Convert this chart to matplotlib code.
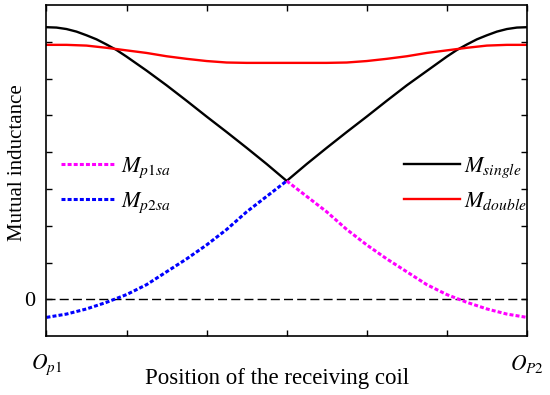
import matplotlib
matplotlib.use('Agg')
import matplotlib.pyplot as plt

# values (arbitrary units, receiving coil from Op1 to Op2)
x_single = [0, 0.125, 0.25, 0.375, 0.5, 0.625, 0.75, 0.875, 1.0, 1.25, 1.5, 1.75, 2.0,
            2.25, 2.5, 2.75, 3.0, 3.25, 3.5, 3.75, 4.0, 4.25, 4.5, 5.0, 5.125, 5.25,
            5.375, 5.5, 5.625, 5.75, 5.875, 6.0]
m_single = [7.40, 7.39, 7.35, 7.28, 7.18, 7.07, 6.93, 6.78, 6.60, 6.22, 5.82, 5.40, 4.97,
            4.55, 4.12, 3.68, 3.22, 3.68, 4.12, 4.55, 4.97, 5.40, 5.82, 6.60, 6.78, 6.93,
            7.07, 7.18, 7.28, 7.35, 7.39, 7.40]

x_double = [0, 0.25, 0.5, 0.75, 1.0, 1.25, 1.5, 1.75, 2.0, 2.25, 2.5, 3.0,
            3.5, 3.75, 4.0, 4.25, 4.5, 4.75, 5.0, 5.25, 5.5, 5.75, 6.0]
m_double = [6.92, 6.92, 6.90, 6.84, 6.77, 6.70, 6.61, 6.54, 6.48, 6.44, 6.43, 6.43,
            6.43, 6.44, 6.48, 6.54, 6.61, 6.70, 6.77, 6.84, 6.90, 6.92, 6.92]

x_left = [0, 0.25, 0.5, 0.75, 1.0, 1.25, 1.5, 1.75, 2.0, 2.25, 2.5, 2.75, 3.0]
x_right = [3.0, 3.25, 3.5, 3.75, 4.0, 4.25, 4.5, 4.75, 5.0, 5.25, 5.5, 5.75, 6.0]
m_p2sa = [-0.49, -0.40, -0.26, -0.08, 0.13, 0.40, 0.75, 1.10, 1.48, 1.90, 2.38, 2.80, 3.22]
m_p1sa = [3.22, 2.80, 2.38, 1.90, 1.48, 1.10, 0.75, 0.40, 0.13, -0.08, -0.26, -0.40, -0.49]

x_ticks = [0, 1, 2, 3, 4, 5, 6]
x_ticklabels = [r'$O_{p1}$', '', '', '', '', '', r'$O_{P2}$']
y_ticks = [0, 1, 2, 3, 4, 5, 6, 7]
y_ticklabels = ['0', '', '', '', '', '', '', '']

plt.rcParams['font.family'] = ['Liberation Serif', 'DejaVu Serif']
plt.rcParams['mathtext.fontset'] = 'stix'

fig = plt.figure(figsize=(5.5, 3.95), dpi=100)
ax = fig.add_axes([0.0845, 0.149, 0.8735, 0.838])

dots = (0, (1.3, 0.7))
ax.axhline(0, color='black', lw=1.0, dashes=(6.5, 3))
ax.plot(x_single, m_single, color='black', lw=1.7, label=r'$M_{single}$')
ax.plot(x_double, m_double, color='#ff0000', lw=1.7, label=r'$M_{double}$')
ax.plot(x_right, m_p1sa, color='#ff00ff', lw=2.2, linestyle=dots, label=r'$M_{p1sa}$')
ax.plot(x_left, m_p2sa, color='#0000ff', lw=2.2, linestyle=dots, label=r'$M_{p2sa}$')

ax.set_xlim(0, 6)
ax.set_ylim(-1, 8)
ax.set_xticks(x_ticks)
ax.set_xticklabels(x_ticklabels, fontsize=15.5)
ax.set_yticks(y_ticks)
ax.set_yticklabels(y_ticklabels, fontsize=16)
ax.tick_params(direction='in', length=4, width=1, top=True, right=True)
ax.tick_params(axis='x', pad=12)
ax.tick_params(axis='y', pad=8)
for s in ax.spines.values():
    s.set_linewidth(1.2)

ax.set_xlabel('Position of the receiving coil', fontsize=16.5)
ax.xaxis.set_label_coords(0.48, -0.095)
ax.set_ylabel('Mutual inductance', fontsize=15)
ax.yaxis.set_label_coords(-0.04, 0.525)

h = ax.get_lines()
leg1 = ax.legend(handles=[h[3], h[4]], loc='upper left', bbox_to_anchor=(0.03, 0.545),
                 frameon=False, fontsize=16, handlelength=2.5, handletextpad=0.2,
                 borderpad=0, borderaxespad=0, labelspacing=0.45)
ax.add_artist(leg1)
ax.legend(handles=[h[1], h[2]], loc='upper left', bbox_to_anchor=(0.745, 0.545),
          frameon=False, fontsize=16, handlelength=2.5, handletextpad=0.2,
          borderpad=0, borderaxespad=0, labelspacing=0.45)

fig.savefig('out.png', dpi=100)
